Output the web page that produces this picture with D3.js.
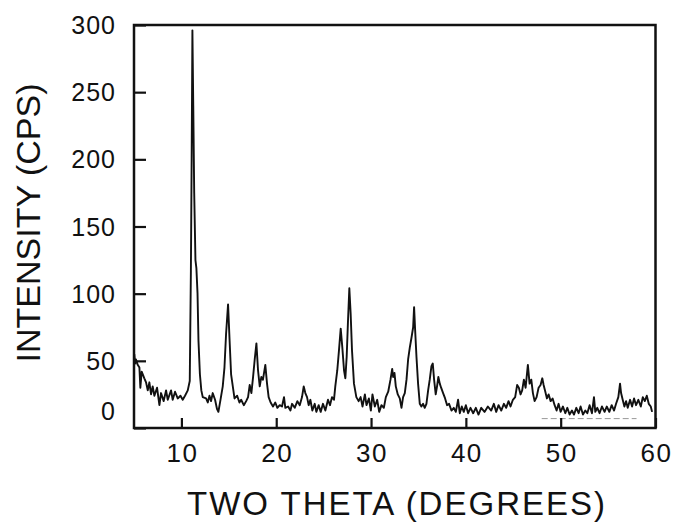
<!DOCTYPE html>
<html>
<head>
<meta charset="utf-8">
<script src="https://cdn.jsdelivr.net/npm/d3@7"></script>
<style>
  html, body { margin: 0; padding: 0; background: #fff; }
  svg { display: block; font-family: "Liberation Sans", Arial, Helvetica, sans-serif; }
  .frame { fill: none; stroke: #111; stroke-width: 2.5; }
  .tick line { stroke: #111; stroke-width: 2.2; }
  .trace { fill: none; stroke: #111; stroke-width: 1.9; stroke-linejoin: round; }
  .base { stroke: #999; stroke-width: 1; stroke-dasharray: 6 3; }
  text { fill: #111; }
</style>
</head>
<body>
<svg id="viz" width="674" height="523"></svg>
<script>
// ==== Data ====
const twoTheta = [
  5.03, 5.12, 5.21, 5.39, 5.57, 5.67, 5.81, 6.09, 6.27, 6.45, 6.62, 6.80, 6.97, 7.15, 7.43, 7.68, 7.85,
  8.13, 8.38, 8.56, 8.91, 9.08, 9.33, 9.61, 9.90, 10.14, 10.38, 10.67, 10.88,
  11.00, 11.08, 11.16, 11.25, 11.35, 11.48, 11.58, 11.70, 11.80, 11.95, 12.10, 12.25,
  12.60, 12.78, 12.96, 13.13, 13.30, 13.55, 13.76, 13.90, 14.12, 14.36, 14.54, 14.71, 14.92,
  15.07, 15.24, 15.42, 15.60, 15.88, 16.12, 16.30, 16.58, 16.83, 17.03, 17.20, 17.38, 17.56,
  17.73, 17.91, 18.08, 18.26, 18.43, 18.60, 18.85, 19.03, 19.20, 19.41, 19.66, 19.90,
  20.12, 20.37, 20.61, 20.82, 20.96, 21.25, 21.50, 21.67, 21.95, 22.23, 22.48, 22.72, 22.90,
  23.07, 23.25, 23.42, 23.60, 23.81, 24.06, 24.23, 24.48, 24.69, 24.93, 25.18, 25.46, 25.67,
  25.88, 26.09, 26.23, 26.44, 26.62, 26.80, 26.97, 27.15, 27.29, 27.43, 27.57, 27.71, 27.85,
  27.99, 28.20, 28.45, 28.69, 28.90, 29.10, 29.35, 29.52, 29.77, 29.98, 30.15, 30.40, 30.65,
  30.86, 31.10, 31.35, 31.56, 31.81, 32.05, 32.23, 32.33, 32.47, 32.61, 32.82, 33.03, 33.21,
  33.38, 33.56, 33.74, 33.91, 34.09, 34.26, 34.44, 34.54, 34.65, 34.79, 34.96, 35.14, 35.31,
  35.49, 35.66, 35.84, 36.02, 36.19, 36.37, 36.51, 36.65, 36.82, 36.96, 37.10, 37.25, 37.39,
  37.60, 37.81, 38.02, 38.23, 38.48, 38.73, 38.94, 39.18, 39.36, 39.57, 39.78, 40.00, 40.24,
  40.49, 40.77, 41.05, 41.33, 41.62, 41.97, 42.32, 42.67, 42.95, 43.20, 43.45, 43.73, 44.01,
  44.25, 44.50, 44.71, 44.96, 45.20, 45.41, 45.59, 45.77, 45.94, 46.12, 46.30, 46.54, 46.72,
  46.90, 47.07, 47.25, 47.46, 47.67, 47.88, 48.06, 48.20, 48.38, 48.55, 48.73, 48.94, 49.15,
  49.36, 49.57, 49.78, 49.99, 50.24, 50.49, 50.70, 50.94, 51.19, 51.40, 51.65, 51.89, 52.10,
  52.35, 52.60, 52.81, 53.05, 53.30, 53.51, 53.65, 53.86, 54.10, 54.35, 54.63, 54.86, 55.13,
  55.38, 55.63, 55.84, 56.08, 56.26, 56.37, 56.54, 56.72, 56.90, 57.07, 57.32, 57.53, 57.74,
  57.95, 58.19, 58.45, 58.66, 58.87, 59.08, 59.29, 59.50, 59.64
];
const intensity = [
  55, 48, 51, 47, 45, 30, 42, 37, 34, 28, 34, 25, 31, 24, 30, 17, 26,
  20, 28, 21, 28, 21, 27, 22, 24, 21, 24, 28, 35,
  117, 200, 296, 240, 175, 125, 119, 100, 65, 40, 28, 23,
  22, 19, 24, 20, 26, 21, 14, 12, 21, 31, 45, 70, 92,
  67, 40, 31, 22, 24, 19, 21, 17, 20, 23, 32, 26, 38,
  51, 63, 43, 31, 38, 36, 47, 33, 23, 19, 16, 19,
  15, 17, 16, 23, 15, 16, 13, 18, 15, 20, 17, 23, 31,
  26, 23, 17, 21, 13, 18, 12, 17, 12, 18, 13, 21, 17,
  23, 21, 31, 43, 58, 74, 60, 43, 37, 53, 80, 104, 85,
  58, 33, 23, 20, 23, 16, 25, 17, 22, 13, 25, 16, 21,
  12, 17, 15, 23, 27, 36, 44, 38, 41, 31, 25, 22, 15,
  23, 26, 36, 51, 60, 67, 75, 90, 73, 53, 33, 18, 16,
  18, 15, 18, 28, 36, 46, 48, 36, 25, 31, 38, 33, 30,
  26, 22, 17, 18, 13, 15, 12, 21, 11, 16, 12, 17, 11,
  15, 11, 15, 10, 15, 12, 16, 13, 18, 12, 17, 13, 18,
  15, 20, 16, 21, 23, 32, 30, 25, 28, 36, 30, 47, 33,
  36, 26, 20, 23, 30, 32, 37, 32, 27, 22, 25, 20, 22,
  17, 13, 18, 12, 16, 11, 15, 10, 13, 10, 15, 11, 16,
  10, 13, 11, 17, 11, 23, 12, 15, 11, 16, 12, 16, 12,
  17, 13, 18, 23, 33, 26, 21, 16, 20, 15, 21, 16, 22,
  17, 21, 16, 23, 20, 24, 18, 16, 12
];
const xTicks = [10, 20, 30, 40, 50, 60];
const yTicks = [0, 50, 100, 150, 200, 250, 300];
// faint dashed baseline segment near the bottom right of the scan
const baseX = [48, 58];
const baseY = 7;

const points = twoTheta.map((t, i) => ({ t, v: intensity[i] }));

// ==== Layout ====
const svg = d3.select("#viz");
const m = { left: 134, right: 655.5, top: 25, bottom: 428 };

const x = d3.scaleLinear().domain([5, 60]).range([m.left, m.right]);
const y = d3.scaleLinear().domain([0, 300]).range([m.bottom, m.top]);

// ==== Trace ====
const line = d3.line().x(d => x(d.t)).y(d => y(d.v));
svg.append("path").datum(points).attr("class", "trace").attr("d", line);

svg.append("line").attr("class", "base")
  .attr("x1", x(baseX[0])).attr("x2", x(baseX[1]))
  .attr("y1", y(baseY)).attr("y2", y(baseY));

// ==== Axes (ticks point inward) ====
const gx = svg.append("g").attr("transform", `translate(0,${m.bottom})`)
  .call(d3.axisTop(x).tickValues(xTicks).tickSize(10).tickFormat(""));
gx.select(".domain").remove();

const gy = svg.append("g").attr("transform", `translate(${m.left},0)`)
  .call(d3.axisRight(y).tickValues(yTicks).tickSize(12).tickFormat(""));
gy.select(".domain").remove();

svg.append("rect").attr("class", "frame")
  .attr("x", m.left).attr("y", m.top)
  .attr("width", m.right - m.left).attr("height", m.bottom - m.top);

// tick labels
svg.append("g").selectAll("text").data(xTicks).join("text")
  .attr("x", d => x(d) + 1)
  .attr("y", 462)
  .attr("text-anchor", "middle")
  .attr("font-size", 26)
  .attr("letter-spacing", 1.5)
  .text(d => d);

svg.append("g").selectAll("text").data(yTicks).join("text")
  .attr("x", 116)
  .attr("y", d => y(d) + (d === 0 ? -17 : 0))
  .attr("dy", "0.36em")
  .attr("text-anchor", "end")
  .attr("font-size", 25)
  .attr("letter-spacing", 1)
  .text(d => d);

// axis titles
svg.append("text")
  .attr("x", 397).attr("y", 515)
  .attr("text-anchor", "middle")
  .attr("font-size", 33)
  .attr("letter-spacing", 2)
  .text("TWO THETA (DEGREES)");

svg.append("text")
  .attr("transform", "translate(40,223) rotate(-90)")
  .attr("text-anchor", "middle")
  .attr("font-size", 34)
  .text("INTENSITY (CPS)");
</script>
</body>
</html>
